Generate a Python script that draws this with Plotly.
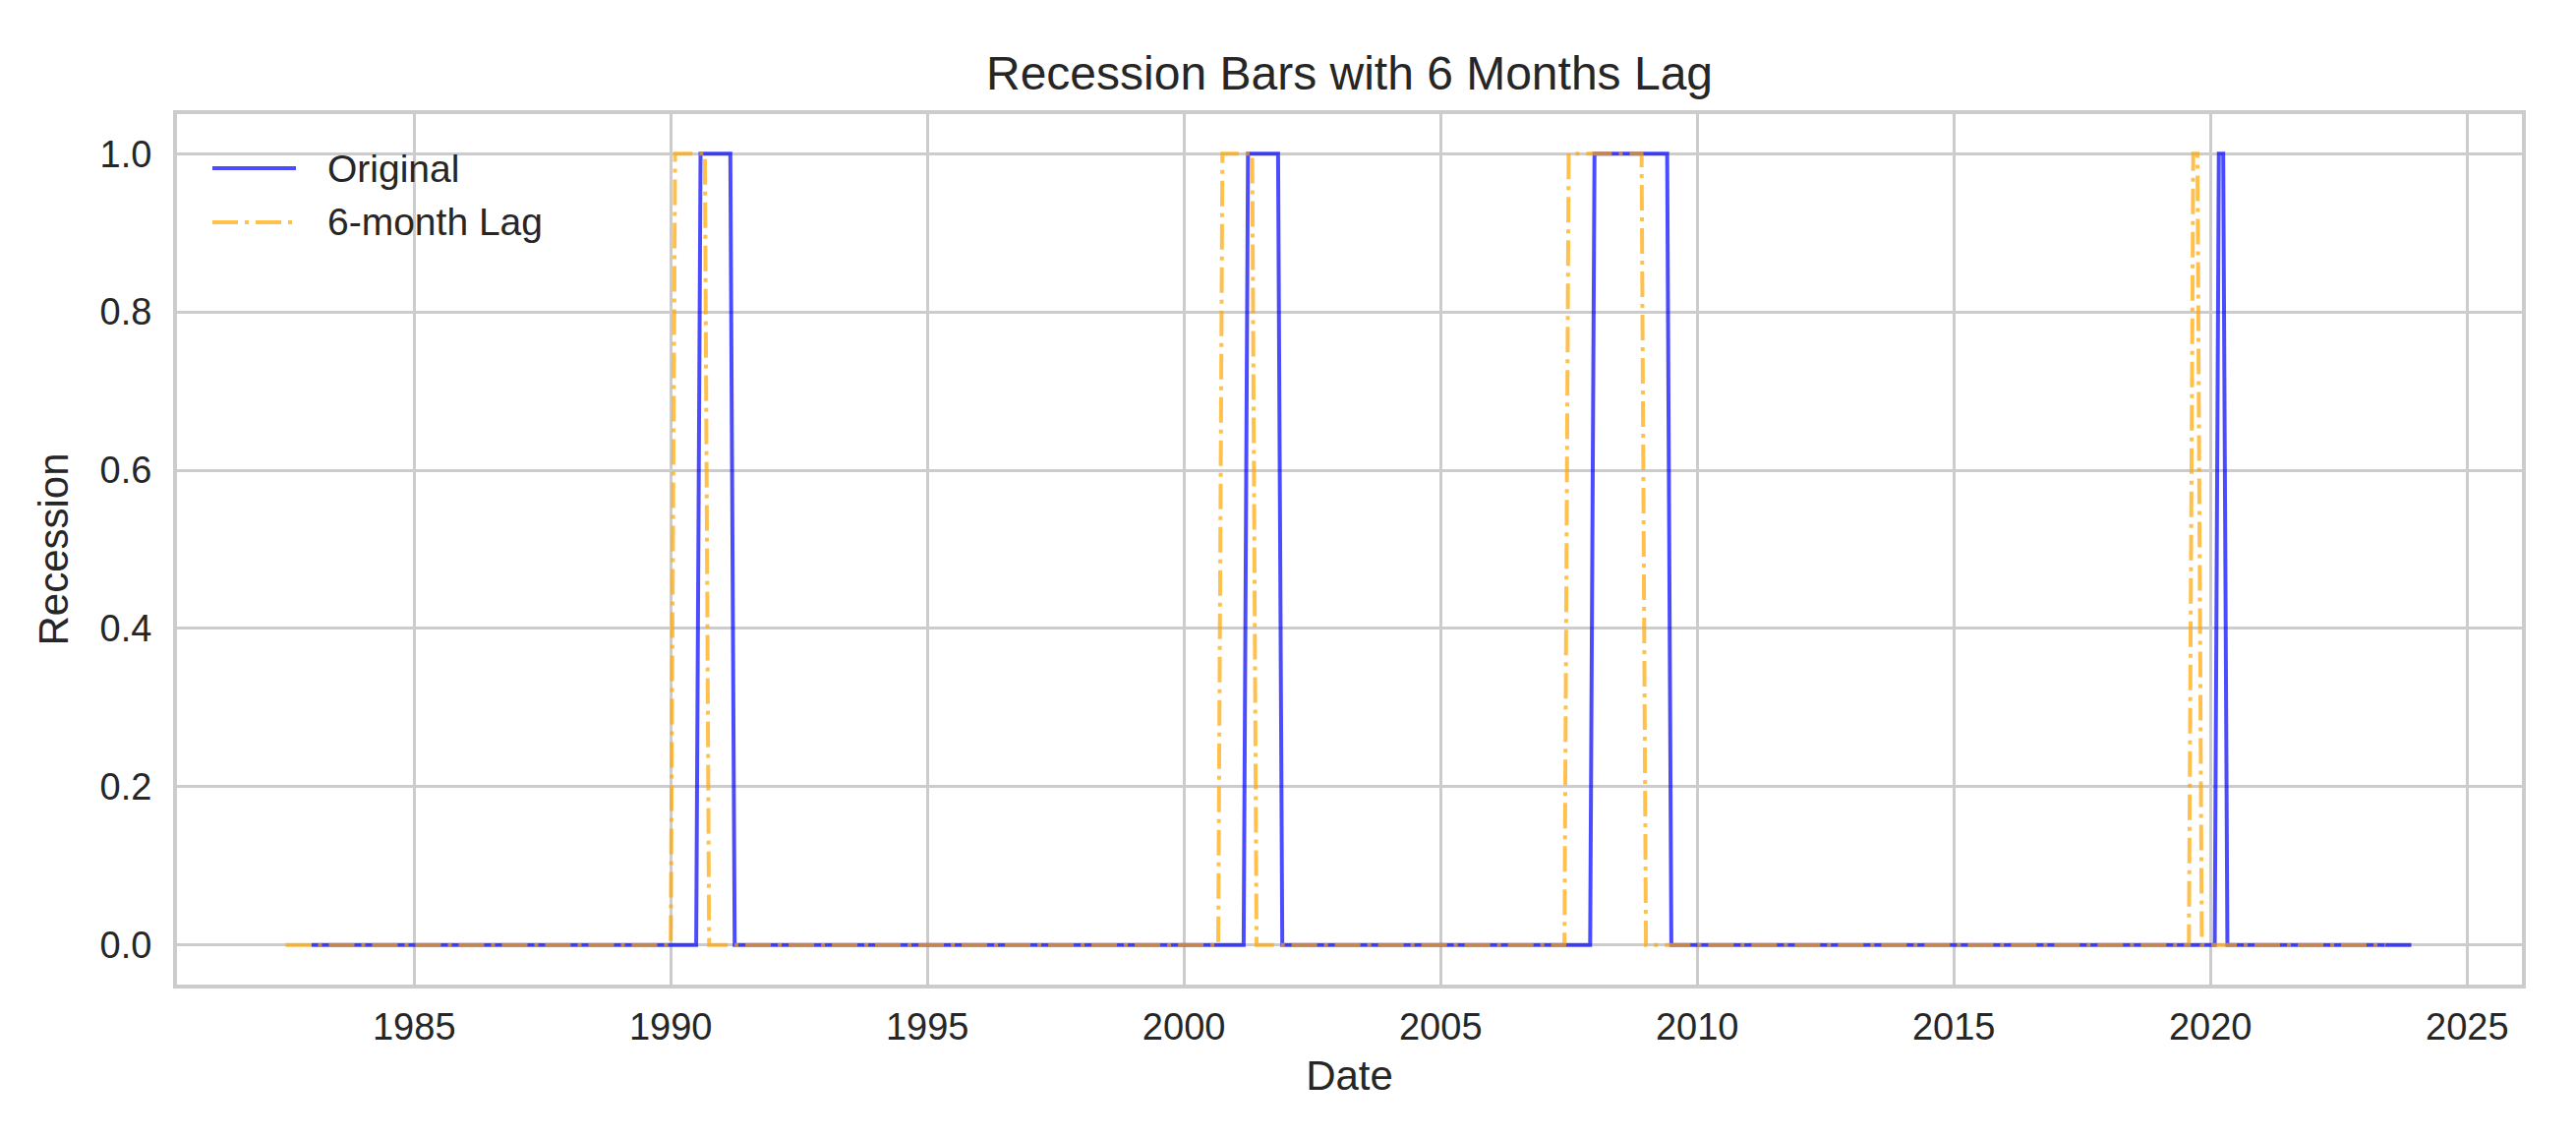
import plotly.graph_objects as go

# ---- data (monthly recession indicator, change points only) ----
orig_dates = ["1983-01-01", "1990-07-01", "1990-08-01", "1991-03-01", "1991-04-01",
              "2001-03-01", "2001-04-01", "2001-11-01", "2001-12-01",
              "2007-12-01", "2008-01-01", "2009-06-01", "2009-07-01",
              "2020-02-01", "2020-03-01", "2020-04-01", "2020-05-01", "2023-12-01"]
orig_vals = [0, 0, 1, 1, 0, 0, 1, 1, 0, 0, 1, 1, 0, 0, 1, 1, 0, 0]

lag_dates = ["1982-07-01", "1990-01-01", "1990-02-01", "1990-09-01", "1990-10-01",
             "2000-09-01", "2000-10-01", "2001-05-01", "2001-06-01",
             "2007-06-01", "2007-07-01", "2008-12-01", "2009-01-01",
             "2019-08-01", "2019-09-01", "2019-10-01", "2019-11-01", "2023-06-01"]
lag_vals = [0, 0, 1, 1, 0, 0, 1, 1, 0, 0, 1, 1, 0, 0, 1, 1, 0, 0]

x_tick_years = [1985, 1990, 1995, 2000, 2005, 2010, 2015, 2020, 2025]
y_ticks = [0.0, 0.2, 0.4, 0.6, 0.8, 1.0]
series_names = ["Original", "6-month Lag"]

# ---- style ----
# the page body adds an 8px offset; the figure is sized/positioned to compensate
OFF = 8
W, H = 2620 - OFF, 1158 - OFF
ML, MR, MT, MB = 180 - OFF, 55, 116 - OFF, 157
FONT = "Liberation Sans, Arial, sans-serif"
TXT = "#262626"
GRID = "#cccccc"
BLUE = "rgba(0,0,255,0.7)"
ORANGE = "rgba(255,165,0,0.7)"
LW = 4
DASHDOT = "26px,7px,4px,7px"

fig = go.Figure()
fig.add_trace(go.Scatter(x=orig_dates, y=orig_vals, mode="lines", name=series_names[0],
                         line=dict(color=BLUE, width=LW), showlegend=False))
fig.add_trace(go.Scatter(x=lag_dates, y=lag_vals, mode="lines", name=series_names[1],
                         line=dict(color=ORANGE, width=LW, dash=DASHDOT), showlegend=False))

pw = W - ML - MR
ph = H - MT - MB

def px_x(p):  # screen px -> paper
    return (p - OFF - ML) / pw

def px_y(p):
    return (H - MB - (p - OFF)) / ph

# manual legend (matplotlib-like long handles)
legend_rows = [(171, BLUE, "solid"), (226, ORANGE, DASHDOT)]
for (yp, col, dsh), name in zip(legend_rows, series_names):
    fig.add_shape(type="line", xref="paper", yref="paper",
                  x0=px_x(216), x1=px_x(301), y0=px_y(yp), y1=px_y(yp),
                  line=dict(color=col, width=LW, dash=dsh))
    fig.add_annotation(xref="paper", yref="paper", x=px_x(331), y=px_y(yp),
                       text=name, showarrow=False, xanchor="left", yanchor="middle",
                       font=dict(family=FONT, size=39, color=TXT))

fig.update_layout(
    width=W, height=H,
    margin=dict(l=ML, r=MR, t=MT, b=MB),
    paper_bgcolor="white", plot_bgcolor="white",
    font=dict(family=FONT, color=TXT, size=38),
    title=dict(text="Recession Bars with 6 Months Lag", x=(ML + (W - MR)) / 2 / W,
               xanchor="center", yref="container", y=1 - (74 - OFF) / H, yanchor="middle",
               font=dict(family=FONT, size=48, color=TXT)),
    showlegend=False,
)
fig.update_xaxes(
    type="date", range=["1980-05-19", "2026-01-26"],
    tickvals=[f"{y}-01-01" for y in x_tick_years], ticktext=[str(y) for y in x_tick_years],
    showgrid=True, gridcolor=GRID, gridwidth=3, zeroline=False,
    showline=True, linecolor=GRID, linewidth=4, mirror=True,
    ticks="outside", ticklen=6, tickcolor="rgba(0,0,0,0)",
    tickfont=dict(family=FONT, size=38, color=TXT),
    title=dict(text="Date", standoff=16, font=dict(family=FONT, size=42, color=TXT)),
)
fig.update_yaxes(
    range=[-0.05, 1.05], tickvals=y_ticks, ticktext=[f"{v:.1f}" for v in y_ticks],
    showgrid=True, gridcolor=GRID, gridwidth=3, zeroline=False,
    showline=True, linecolor=GRID, linewidth=4, mirror=True,
    ticks="outside", ticklen=14, tickcolor="rgba(0,0,0,0)",
    tickfont=dict(family=FONT, size=38, color=TXT),
    title=dict(text="Recession", standoff=20, font=dict(family=FONT, size=42, color=TXT)),
)

fig.write_html("out.html")
